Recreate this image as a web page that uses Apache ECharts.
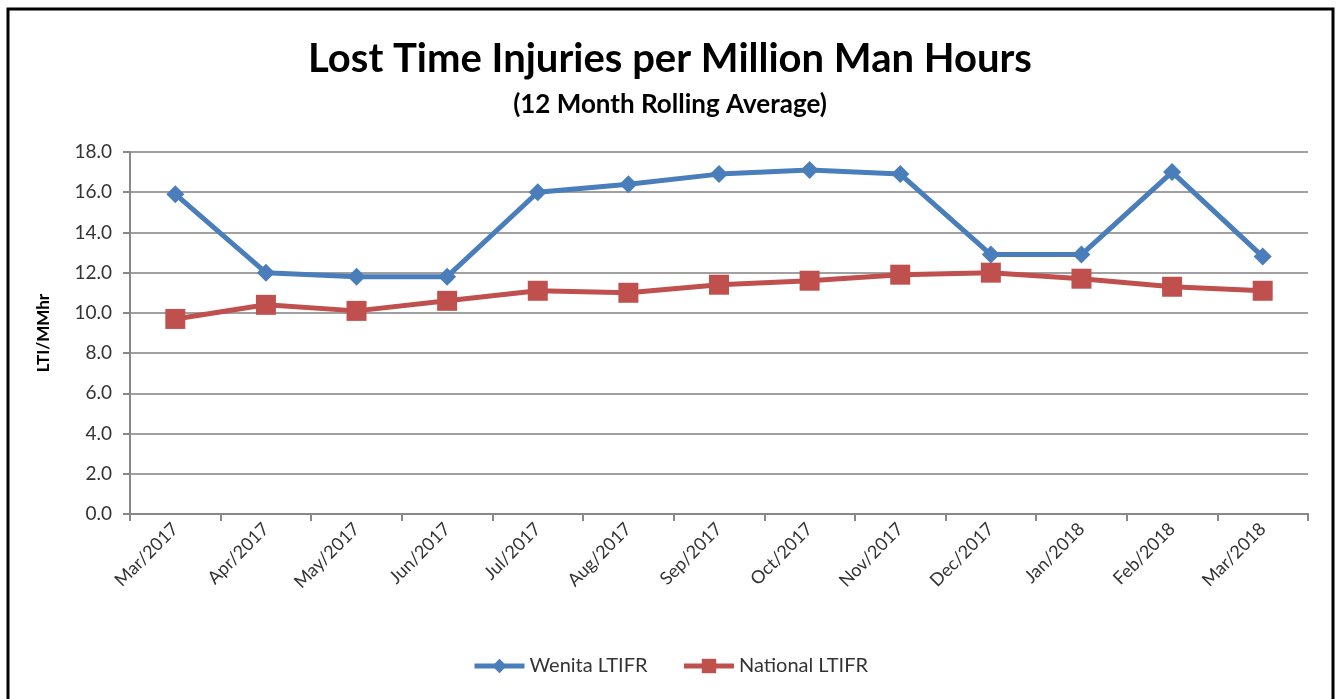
<!DOCTYPE html>
<html lang="en">
<head>
  <meta charset="UTF-8">
  <title>LTIFR</title>
  <script src="https://cdn.jsdelivr.net/npm/echarts@6.0.0/dist/echarts.min.js"></script>
  <style>
    html, body { margin: 0; padding: 0; background: #fff; }
  </style>
</head>
<body>
  <div id="main" style="width: 1340px;height:699px;"></div>

  <script type="text/javascript">
    // Data
    const months = ['Mar/2017', 'Apr/2017', 'May/2017', 'Jun/2017', 'Jul/2017', 'Aug/2017', 'Sep/2017',
      'Oct/2017', 'Nov/2017', 'Dec/2017', 'Jan/2018', 'Feb/2018', 'Mar/2018'];
    const wenitaLtifr = [15.9, 12.0, 11.8, 11.8, 16.0, 16.4, 16.9, 17.1, 16.9, 12.9, 12.9, 17.0, 12.8];
    const nationalLtifr = [9.7, 10.4, 10.1, 10.6, 11.1, 11.0, 11.4, 11.6, 11.9, 12.0, 11.7, 11.3, 11.1];

    let myChart = echarts.init(document.getElementById('main'));

    const font = 'Lato, "Open Sans", sans-serif';

    let options = {
      backgroundColor: '#fff',
      textStyle: { fontFamily: font },
      graphic: [{
        type: 'rect',
        shape: { x: 8, y: 9, width: 1325, height: 700 },
        style: { fill: 'none', stroke: '#000', lineWidth: 3 },
        z: 100
      }],
      title: [{
        text: 'Lost Time Injuries per Million Man Hours',
        left: 'center',
        top: 34,
        textStyle: { fontFamily: font, fontSize: 40, fontWeight: 'bold', color: '#000' }
      }, {
        text: '(12 Month Rolling Average)',
        left: 'center',
        top: 87,
        textStyle: { fontFamily: font, fontSize: 26, fontWeight: 'bold', color: '#000' }
      }],
      legend: {
        bottom: 18,
        left: 'center',
        itemWidth: 50,
        itemHeight: 18,
        itemGap: 34,
        lineStyle: { width: 5 },
        textStyle: { fontFamily: font, fontSize: 20, color: '#333' },
        data: ['Wenita LTIFR', 'National LTIFR']
      },
      grid: { left: 130, right: 32, top: 152, bottom: 185 },
      xAxis: {
        type: 'category',
        data: months,
        boundaryGap: true,
        axisLine: { lineStyle: { color: '#888', width: 2 } },
        axisTick: { show: true, length: 7, lineStyle: { color: '#888', width: 2 } },
        axisLabel: { rotate: 45, fontSize: 18, color: '#333', margin: 12, fontFamily: font }
      },
      yAxis: {
        type: 'value',
        min: 0,
        max: 18,
        interval: 2,
        name: 'LTI/MMhr',
        nameLocation: 'middle',
        nameGap: 78,
        nameTextStyle: { fontFamily: font, fontSize: 17, fontWeight: 'bold', color: '#000' },
        axisLine: { show: true, lineStyle: { color: '#888', width: 2 } },
        axisTick: { show: true, length: 7, lineStyle: { color: '#888', width: 2 } },
        axisLabel: { fontSize: 19, color: '#333', margin: 18, fontFamily: font, formatter: v => v.toFixed(1) },
        splitLine: { lineStyle: { color: '#a0a0a0', width: 2 } }
      },
      series: [{
        name: 'Wenita LTIFR',
        type: 'line',
        data: wenitaLtifr,
        symbol: 'diamond',
        symbolSize: 18,
        color: '#4a7ebb',
        lineStyle: { width: 5, color: '#4a7ebb' },
        itemStyle: { color: '#4a7ebb' }
      }, {
        name: 'National LTIFR',
        type: 'line',
        data: nationalLtifr,
        symbol: 'rect',
        symbolSize: 20,
        color: '#c0504d',
        lineStyle: { width: 5, color: '#c0504d' },
        itemStyle: { color: '#c0504d' }
      }],
      animation: false
    };

    myChart.setOption(options);
  </script>
</body>
</html>
